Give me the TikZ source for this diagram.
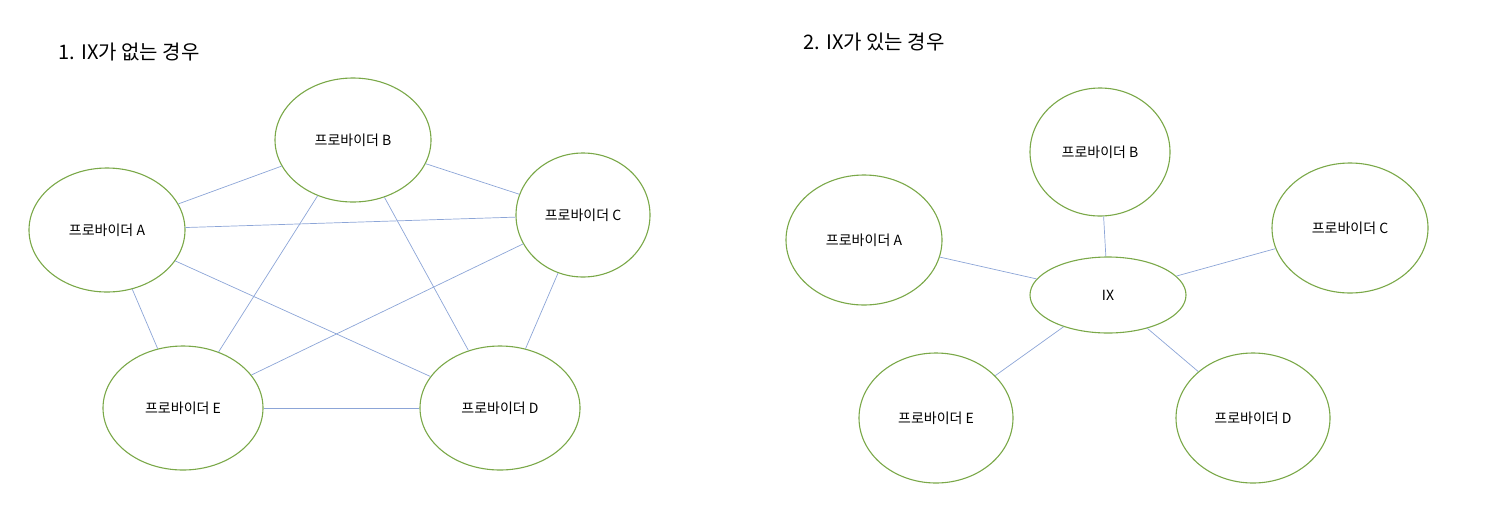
\documentclass[tikz,border=0pt]{standalone}
\usepackage{fontspec}
\setmainfont{Noto Sans CJK KR}
\usetikzlibrary{shapes.geometric}
\definecolor{elg}{RGB}{122,168,72}
\definecolor{lnb}{RGB}{140,165,215}
\tikzset{
 prov/.style={ellipse,draw=elg,line width=1.1pt,inner sep=0,font=\fontsize{14}{16}\selectfont},
 link/.style={draw=lnb,line width=0.7pt},
 ttl/.style={anchor=west,font=\fontsize{20}{24}\selectfont}
}
\begin{document}
\begin{tikzpicture}[x=1pt,y=-1pt]
\useasboundingbox (0,0) rectangle (1488,520);
\node[ttl] (t1) at (55,52) {1. IX가 없는 경우};
\node[ttl] (t2) at (800,42) {2. IX가 있는 경우};
% left
\node[prov,minimum width=156pt,minimum height=124pt] (lB) at (353,140) {프로바이더 B};
\node[prov,minimum width=156pt,minimum height=124pt] (lA) at (107,230) {프로바이더 A};
\node[prov,minimum width=134pt,minimum height=124pt] (lC) at (583,215) {프로바이더 C};
\node[prov,minimum width=160pt,minimum height=124pt] (lE) at (183,408) {프로바이더 E};
\node[prov,minimum width=160pt,minimum height=124pt] (lD) at (500,408) {프로바이더 D};
\foreach \a/\b in {lA/lB,lA/lC,lA/lD,lA/lE,lB/lC,lB/lD,lB/lE,lC/lD,lC/lE,lE/lD}
  \draw[link] (\a) -- (\b);
% right
\node[prov,minimum width=140pt,minimum height=128pt] (rB) at (1100,152) {프로바이더 B};
\node[prov,minimum width=156pt,minimum height=130pt] (rA) at (864,240) {프로바이더 A};
\node[prov,minimum width=156pt,minimum height=130pt] (rC) at (1350,228) {프로바이더 C};
\node[prov,minimum width=156pt,minimum height=76pt] (ix) at (1108,295) {IX};
\node[prov,minimum width=154pt,minimum height=130pt] (rE) at (936,418) {프로바이더 E};
\node[prov,minimum width=154pt,minimum height=130pt] (rD) at (1253,418) {프로바이더 D};
\foreach \a in {rA,rB,rC,rD,rE}
  \draw[link] (ix) -- (\a);
\end{tikzpicture}
\end{document}
